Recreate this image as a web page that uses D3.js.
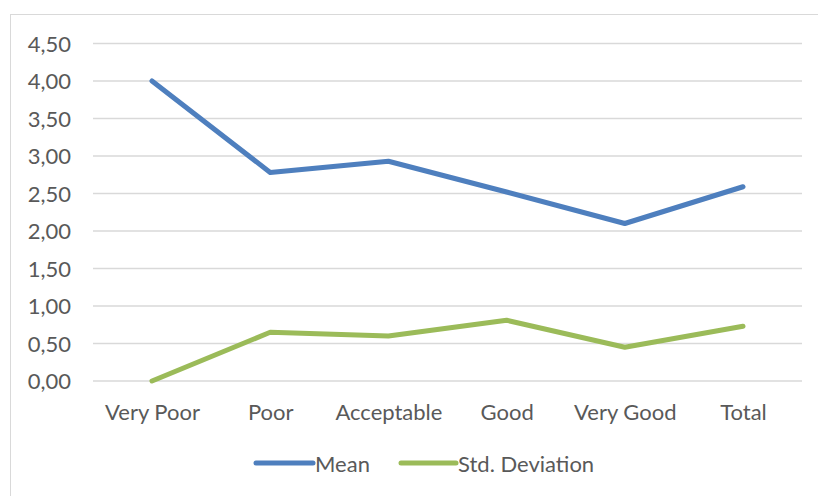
<!DOCTYPE html>
<html><head><meta charset="utf-8">
<script src="https://cdn.jsdelivr.net/npm/d3@7"></script>
<style>body{margin:0;background:#fff}svg{display:block}</style>
</head><body>
<svg id="c" width="818" height="496"></svg>
<script>
const categories = ["Very Poor","Poor","Acceptable","Good","Very Good","Total"];
const meanValues = [4.00, 2.78, 2.93, 2.52, 2.10, 2.59];
const stdValues = [0.00, 0.65, 0.60, 0.81, 0.45, 0.73];
const yTicks = [0,0.5,1,1.5,2,2.5,3,3.5,4,4.5];
const seriesNames = ["Mean","Std. Deviation"];
const colors = ["#4e7fbe","#9bbb59"];

const svg = d3.select("#c");
const font = "Lato, 'Open Sans', sans-serif";
const txt = "#595959";
const fs = 22;

svg.append("rect").attr("x",10.5).attr("y",14.5).attr("width",830).attr("height",500)
  .attr("fill","none").attr("stroke","#d9d9d9").attr("stroke-width",1);

const x = d3.scalePoint().domain(categories).range([152,743]);
const y = d3.scaleLinear().domain([0,4.5]).range([381,43.5]);

svg.append("g").selectAll("line").data(yTicks).join("line")
  .attr("x1",93).attr("x2",802)
  .attr("y1",d=>y(d)).attr("y2",d=>y(d))
  .attr("stroke","#d9d9d9").attr("stroke-width",1.5);

const fmt = d=>d3.format(".2f")(d).replace(".",",");
const yAxis = d3.axisLeft(y).tickValues(yTicks).tickFormat(fmt).tickSize(0).tickPadding(0);
const gy = svg.append("g").attr("transform","translate(71,0)").call(yAxis);
gy.select(".domain").remove();
gy.selectAll("text").attr("font-family",font).attr("font-size",fs).attr("fill",txt).attr("dy","0.35em");

const xAxis = d3.axisBottom(x).tickSize(0).tickPadding(0);
const gx = svg.append("g").attr("transform","translate(0,404)").call(xAxis);
gx.select(".domain").remove();
gx.selectAll("text").attr("font-family",font).attr("font-size",fs).attr("fill",txt).attr("dy","0.35em").attr("y",8);

const line = d3.line().x((d,i)=>x(categories[i])).y(d=>y(d));
[meanValues,stdValues].forEach((vals,k)=>{
  svg.append("path").datum(vals).attr("d",line).attr("fill","none")
    .attr("stroke",colors[k]).attr("stroke-width",5)
    .attr("stroke-linecap","round").attr("stroke-linejoin","round");
});

const lg = [{x1:256,x2:313,tx:315},{x1:401,x2:456,tx:458}];
seriesNames.forEach((n,k)=>{
  svg.append("line").attr("x1",lg[k].x1).attr("x2",lg[k].x2).attr("y1",463).attr("y2",463)
    .attr("stroke",colors[k]).attr("stroke-width",5).attr("stroke-linecap","round");
  svg.append("text").attr("x",lg[k].tx).attr("y",464).attr("dy","0.35em")
    .attr("font-family",font).attr("font-size",fs).attr("fill",txt).text(n);
});
</script>
</body></html>
